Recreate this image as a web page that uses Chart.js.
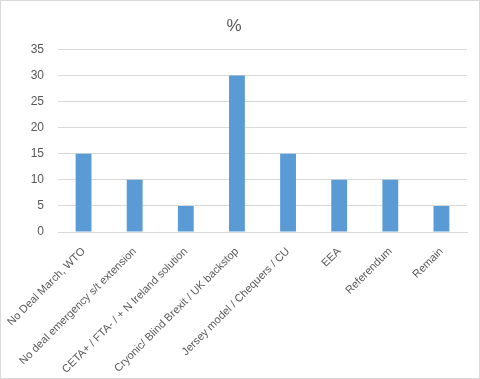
<!DOCTYPE html>
<html>
<head>
<meta charset="utf-8">
<script src="https://cdn.jsdelivr.net/npm/chart.js@4"></script>
<style>
    html, body { margin: 0; padding: 0; background: #fff; }
    .frame { position: relative; width: 478px; height: 377px; border: 1px solid #d9d9d9; }
</style>
</head>
<body>
<div class="frame"><canvas id="c" width="478" height="377"></canvas></div>
<script>
// datos
const categorias = [
    'No Deal March, WTO',
    'No deal emergency s/t extension',
    'CETA+ / FTA- / + N Ireland solution',
    'Cryonic/ Blind Brexit / UK backstop',
    'Jersey model / Chequers / CU',
    'EEA',
    'Referendum',
    'Remain',
];
const porcentajes = [15, 10, 5, 30, 15, 10, 10, 5];
const titulo = '%';

const COLORS = {
    bar: '#5b9bd5',
    ink: '#595959',
    grid: '#d9d9d9',
};
const FONT = "'Liberation Sans', Arial, sans-serif";

new Chart(document.getElementById('c'), {
    type: 'bar',
    data: {
        labels: categorias,
        datasets: [{
            data: porcentajes,
            backgroundColor: COLORS.bar,
            barPercentage: 0.62,
            categoryPercentage: 0.5,
        }],
    },
    options: {
        responsive: false,
        animation: false,
        layout: { padding: { top: 15, right: 12, left: 0, bottom: 0 } },
        plugins: {
            legend: { display: false },
            tooltip: { enabled: false },
            title: {
                display: true,
                text: titulo,
                color: COLORS.ink,
                font: { family: FONT, size: 17, weight: 'normal' },
                padding: { top: 0, bottom: 13 },
            },
        },
        scales: {
            x: {
                grid: { display: false },
                border: { color: COLORS.grid },
                ticks: {
                    color: COLORS.ink,
                    font: { family: FONT, size: 11 },
                    minRotation: 45,
                    maxRotation: 45,
                    autoSkip: false,
                    padding: 5,
                },
                afterFit: (s) => {
                    s.height = 146;
                    s.paddingLeft = 0;
                    s.paddingRight = 0;
                },
            },
            y: {
                min: 0,
                max: 35,
                grid: { color: COLORS.grid, drawTicks: false },
                border: { display: false },
                ticks: {
                    stepSize: 5,
                    color: COLORS.ink,
                    font: { family: FONT, size: 12 },
                    padding: 14,
                },
                afterFit: (s) => { s.width = 57; },
            },
        },
    },
});
</script>
</body>
</html>
